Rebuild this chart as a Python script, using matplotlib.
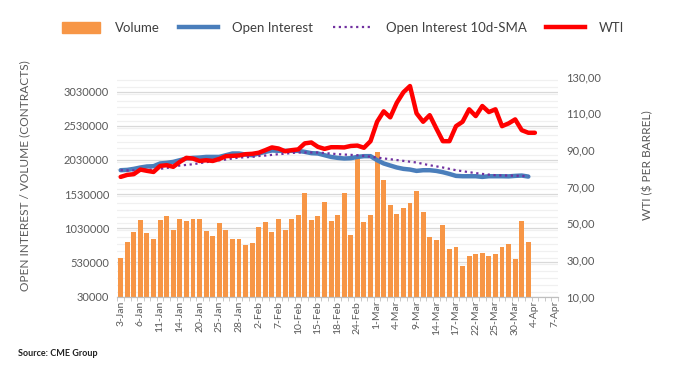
import numpy as np
import pandas as pd
import matplotlib
matplotlib.use('Agg')
import matplotlib.pyplot as plt
from matplotlib.lines import Line2D
from matplotlib.patches import Patch
from matplotlib.ticker import FuncFormatter, MultipleLocator

plt.rcParams['font.family'] = ['Lato', 'DejaVu Sans']

# Trading days (US holidays 17-Jan and 21-Feb skipped)
days = pd.bdate_range('2022-01-03', '2022-04-07')
days = days[~days.isin(pd.to_datetime(['2022-01-17', '2022-02-21']))]
day_labels = [f"{d.day}-{d.strftime('%b')}" for d in days]

# Volume, contracts (3-Jan .. 1-Apr)
volume = [600000, 833000, 980000, 1156000, 965000, 877000, 1156000, 1215000,
          1009000, 1171000, 1142000, 1171000, 1171000, 995000, 921000, 1112000,
          1009000, 877000, 877000, 789000, 819000, 1043000, 1127000, 980000,
          1171000, 1009000, 1171000, 1230000, 1553000, 1156000, 1215000, 1421000,
          1142000, 1230000, 1553000, 936000, 2080000, 1127000, 1230000, 2145000,
          1733000, 1377000, 1244000, 1332000, 1406000, 1582000, 1274000, 907000,
          863000, 1083000, 730000, 760000, 481000, 628000, 657000, 672000,
          628000, 657000, 760000, 804000, 584000, 1142000, 833000]

# Open interest, contracts
open_int = [1880000, 1885000, 1900000, 1920000, 1935000, 1939000, 1979000, 1988000,
            2002000, 2027000, 2052000, 2061000, 2066000, 2075000, 2075000, 2075000,
            2100000, 2125000, 2125000, 2110000, 2100000, 2125000, 2149000, 2169000,
            2164000, 2164000, 2164000, 2164000, 2149000, 2130000, 2125000, 2100000,
            2075000, 2061000, 2052000, 2056000, 2075000, 2086000, 2086000, 2027000,
            1979000, 1949000, 1920000, 1900000, 1890000, 1870000, 1880000, 1880000,
            1870000, 1851000, 1826000, 1797000, 1792000, 1792000, 1792000, 1782000,
            1792000, 1792000, 1792000, 1790000, 1797000, 1802000, 1787000]

# Open interest 10-day SMA
oi_sma = [1880000, 1878000, 1878000, 1880000, 1886000, 1892000, 1900000, 1914000,
          1925000, 1949000, 1958000, 1968000, 1983000, 1998000, 2012000, 2025000,
          2037000, 2052000, 2066000, 2070000, 2075000, 2088000, 2095000, 2105000,
          2115000, 2122000, 2132000, 2140000, 2140000, 2140000, 2140000, 2132000,
          2124000, 2115000, 2110000, 2105000, 2100000, 2090000, 2078000, 2066000,
          2053000, 2041000, 2029000, 2017000, 2005000, 1993000, 1973000, 1953000,
          1937000, 1920000, 1900000, 1880000, 1866000, 1851000, 1838000, 1826000,
          1816000, 1807000, 1804000, 1802000, 1800000, 1797000, 1792000]

# WTI, $ per barrel (3-Jan .. 4-Apr)
wti = [75.3, 76.4, 76.8, 79.3, 78.6, 78.0, 81.3, 81.7, 80.8, 83.5, 85.7, 85.3,
       84.0, 84.4, 84.0, 85.1, 86.6, 86.8, 87.0, 87.7, 87.9, 88.5, 89.9, 91.4,
       90.8, 89.3, 89.9, 90.3, 93.6, 94.1, 91.7, 90.6, 91.5, 91.5, 91.4, 92.2,
       92.4, 91.2, 94.8, 105.4, 111.1, 107.8, 115.8, 121.5, 124.9, 110.0, 105.4,
       109.0, 101.8, 94.8, 94.8, 103.0, 105.4, 112.2, 108.5, 114.0, 110.7, 112.2,
       103.0, 104.5, 106.7, 100.8, 99.4, 99.4]

grey = '#595959'

fig = plt.figure(figsize=(6.73, 3.76), dpi=100)
ax = fig.add_axes([0.1744, 0.2114, 0.6546, 0.5846])
ax2 = ax.twinx()

x_vol = np.arange(len(volume))
ax.bar(x_vol, volume, width=0.75, color='#F79646', zorder=2)
ax.plot(np.arange(len(open_int)), open_int, color='#4A7EBB', lw=3.2,
        solid_capstyle='round', zorder=3)
ax.plot(np.arange(len(oi_sma)), oi_sma, color='#7030A0', lw=1.6,
        linestyle=(0, (1, 1.6)), zorder=4)
ax2.plot(np.arange(len(wti)), wti, color='#FF0000', lw=3.2,
         solid_capstyle='round', solid_joinstyle='round', zorder=5)

# left axis
ax.set_ylim(30000, 3250000)
ax.set_yticks(np.arange(30000, 3030001, 500000))
ax.yaxis.set_major_formatter(FuncFormatter(lambda v, p: f'{int(round(v))}'))
ax.yaxis.set_minor_locator(MultipleLocator(100000))
ax.grid(axis='y', which='major', color='#d9d9d9', lw=0.9, zorder=0)
ax.grid(axis='y', which='minor', color='#f0f0f0', lw=0.9, zorder=0)
ax.set_axisbelow(True)
ax.tick_params(axis='y', which='both', length=0, labelsize=8, labelcolor=grey, pad=6)
ax.set_ylabel('OPEN INTEREST / VOLUME (CONTRACTS)', fontsize=8.6, color=grey)
ax.yaxis.set_label_coords(-0.197, 0.55)

# right axis
ax2.set_ylim(10, 130)
ax2.set_yticks(np.arange(10, 131, 20))
ax2.yaxis.set_major_formatter(FuncFormatter(lambda v, p: f'{v:.2f}'.replace('.', ',')))
ax2.tick_params(axis='y', length=0, labelsize=8, labelcolor=grey, pad=6)
ax2.set_ylabel('WTI ($ PER BARREL)', fontsize=8.6, color=grey)
ax2.yaxis.set_label_coords(1.19, 0.6)

# category axis
ax.set_xlim(-0.5, len(days) - 0.5)
ax.set_xticks(np.arange(0, len(days), 3))
ax.set_xticklabels(day_labels[::3], rotation=90, fontsize=7.5, color=grey)
ax.set_xticks(np.arange(-0.5, len(days), 1), minor=True)
ax.tick_params(axis='x', which='major', length=0, pad=3)
ax.tick_params(axis='x', which='minor', length=3, color='#bfbfbf')

for a in (ax, ax2):
    for s in ('top', 'left', 'right'):
        a.spines[s].set_visible(False)
    a.spines['bottom'].set_color('#bfbfbf')

handles = [Patch(color='#F79646'),
           Line2D([], [], color='#4A7EBB', lw=3.2),
           Line2D([], [], color='#7030A0', lw=1.6, linestyle=(0, (1, 1.6))),
           Line2D([], [], color='#FF0000', lw=3.2)]
labels = ['Volume', 'Open Interest', 'Open Interest 10d-SMA', 'WTI']
fig.legend(handles, labels, loc='center', bbox_to_anchor=(0.51, 0.925), ncol=4,
           frameon=False, fontsize=9.5, handlelength=2.9, handleheight=0.9,
           handletextpad=1.1, columnspacing=1.5, labelcolor='#404040')

fig.text(0.027, 0.052, 'Source: CME Group', fontsize=6.5, fontweight='bold', color='#222222')

fig.savefig('out.png', dpi=100)
